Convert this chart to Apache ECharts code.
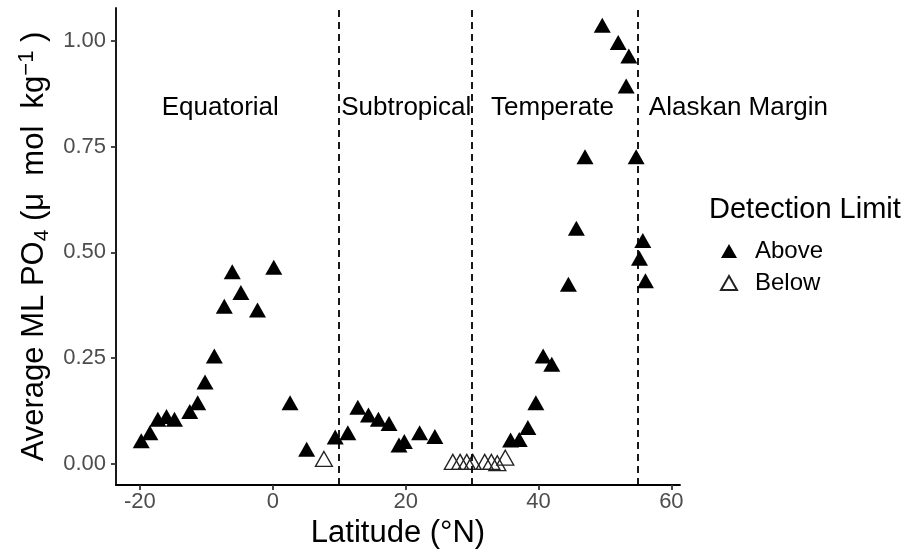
<!DOCTYPE html>
<html>
<head>
<meta charset="utf-8">
<script src="https://cdn.jsdelivr.net/npm/echarts@6/dist/echarts.min.js"></script>
<style>html,body{margin:0;padding:0;background:#fff;}#c{width:911px;height:554px;}</style>
</head>
<body>
<div id="c"></div>
<script>
// Latitude (°N) and average ML PO4 for stations above the detection limit
const aboveLat = [-19.8,-18.5,-17.3,-16.0,-14.8,-12.5,-11.3,-10.2,-8.8,-7.3,-6.1,-4.8,-2.3,0.15,2.6,5.1,
  9.4,11.3,12.8,14.4,15.9,17.5,19.0,19.8,22.1,24.4,
  35.8,37.1,38.4,39.6,40.7,42.0,44.5,45.7,47.0,49.6,52.0,53.6,53.2,54.7,55.7,55.2,56.1];
const abovePO4 = [0.055,0.074,0.106,0.112,0.106,0.124,0.145,0.194,0.255,0.373,0.454,0.405,0.364,0.465,0.145,0.035,
  0.064,0.074,0.134,0.116,0.106,0.096,0.045,0.053,0.074,0.065,
  0.057,0.058,0.086,0.145,0.255,0.236,0.425,0.557,0.726,1.037,0.996,0.964,0.893,0.726,0.528,0.486,0.433];
// stations below the detection limit
const belowLat = [7.7,27.1,28.2,29.2,30.1,31.9,32.9,33.8,35.0];
const belowPO4 = [0.012,0.005,0.005,0.005,0.005,0.005,0.005,0.002,0.015];
// region boundaries and labels
const boundaries = [10, 30, 55];
const regionNames = ['Equatorial','Subtropical','Temperate','Alaskan Margin'];
const regionLat = [-7.9, 20.1, 42.1, 70.1];
const regionY = 0.842;
// ticks
const xTicks = [-20, 0, 20, 40, 60];
const yTicks = [0, 0.25, 0.5, 0.75, 1.0];

const FONT = "'Liberation Sans', Arial, Helvetica, sans-serif";
const chart = echarts.init(document.getElementById('c'), null, {renderer: 'canvas'});
const zip = (a, b) => a.map((v, i) => [v, b[i]]);

chart.setOption({
  animation: false,
  backgroundColor: '#ffffff',
  textStyle: {fontFamily: FONT},
  grid: {left: 116, right: 231, top: 8, bottom: 69, containLabel: false},
  title: {
    text: 'Detection Limit', left: 704, top: 190,
    textStyle: {fontFamily: FONT, fontSize: 29, fontWeight: 'normal', color: '#000'}
  },
  legend: {
    data: ['Above', 'Below'], orient: 'vertical', left: 715, top: 234,
    itemWidth: 16, itemHeight: 14, itemGap: 8, symbolKeepAspect: false,
    textStyle: {fontFamily: FONT, fontSize: 24, color: '#000', padding: [0, 0, 0, 13]}
  },
  xAxis: {
    type: 'value', min: -23.6, max: 61.3,
    name: 'Latitude (°N)', nameLocation: 'middle', nameGap: 25,
    nameTextStyle: {fontFamily: FONT, fontSize: 31, color: '#000'},
    axisLine: {show: true, onZero: false, lineStyle: {color: '#000', width: 1.8}},
    axisTick: {show: true, length: 5, customValues: xTicks, lineStyle: {color: '#333', width: 1.8}},
    axisLabel: {customValues: xTicks, margin: 6, fontSize: 22, color: '#4d4d4d', fontFamily: FONT,
      formatter: v => String(v)},
    splitLine: {show: false}
  },
  yAxis: {
    type: 'value', min: -0.0496, max: 1.0775,
    name: 'Average ML PO{sub|4} ({t|μ}  mol  kg{sup|−1} )', nameLocation: 'middle', nameGap: 57,
    nameTextStyle: {fontFamily: FONT, fontSize: 31, color: '#000', lineHeight: 36,
      rich: {
        t: {fontFamily: FONT, fontSize: 31, color: '#000', lineHeight: 36},
        sub: {fontFamily: FONT, fontSize: 21, color: '#000', verticalAlign: 'bottom', lineHeight: 21},
        sup: {fontFamily: FONT, fontSize: 22, color: '#000', verticalAlign: 'top', lineHeight: 22}
      }},
    axisLine: {show: true, onZero: false, lineStyle: {color: '#000', width: 1.8}},
    axisTick: {show: true, length: 5, customValues: yTicks, lineStyle: {color: '#333', width: 1.8}},
    axisLabel: {customValues: yTicks, margin: 10, fontSize: 22, color: '#4d4d4d', fontFamily: FONT,
      formatter: v => v.toFixed(2)},
    splitLine: {show: false}
  },
  series: [
    {
      name: 'regions', type: 'scatter', silent: true, clip: false,
      symbolSize: 1, itemStyle: {color: '#ffffff'},
      data: regionNames.map((n, i) => ({name: n, value: [regionLat[i], regionY]})),
      label: {show: true, position: 'inside', formatter: p => p.name, opacity: 1,
        fontFamily: FONT, fontSize: 26, color: '#000000'},
      markLine: {
        silent: true, symbol: ['none', 'none'], label: {show: false},
        lineStyle: {color: '#000', width: 1.8, type: [7, 5]},
        data: boundaries.map(b => ({xAxis: b}))
      },
      z: 1
    },
    {
      name: 'Above', type: 'scatter', symbol: 'triangle', symbolSize: [17, 15],
      itemStyle: {color: '#000', opacity: 1},
      data: zip(aboveLat, abovePO4), z: 3
    },
    {
      name: 'Below', type: 'scatter', symbol: 'triangle', symbolSize: [17, 15],
      itemStyle: {color: 'rgba(255,255,255,0)', borderColor: '#222', borderWidth: 1.3, opacity: 1},
      data: zip(belowLat, belowPO4), z: 3
    }
  ]
});
</script>
</body>
</html>
